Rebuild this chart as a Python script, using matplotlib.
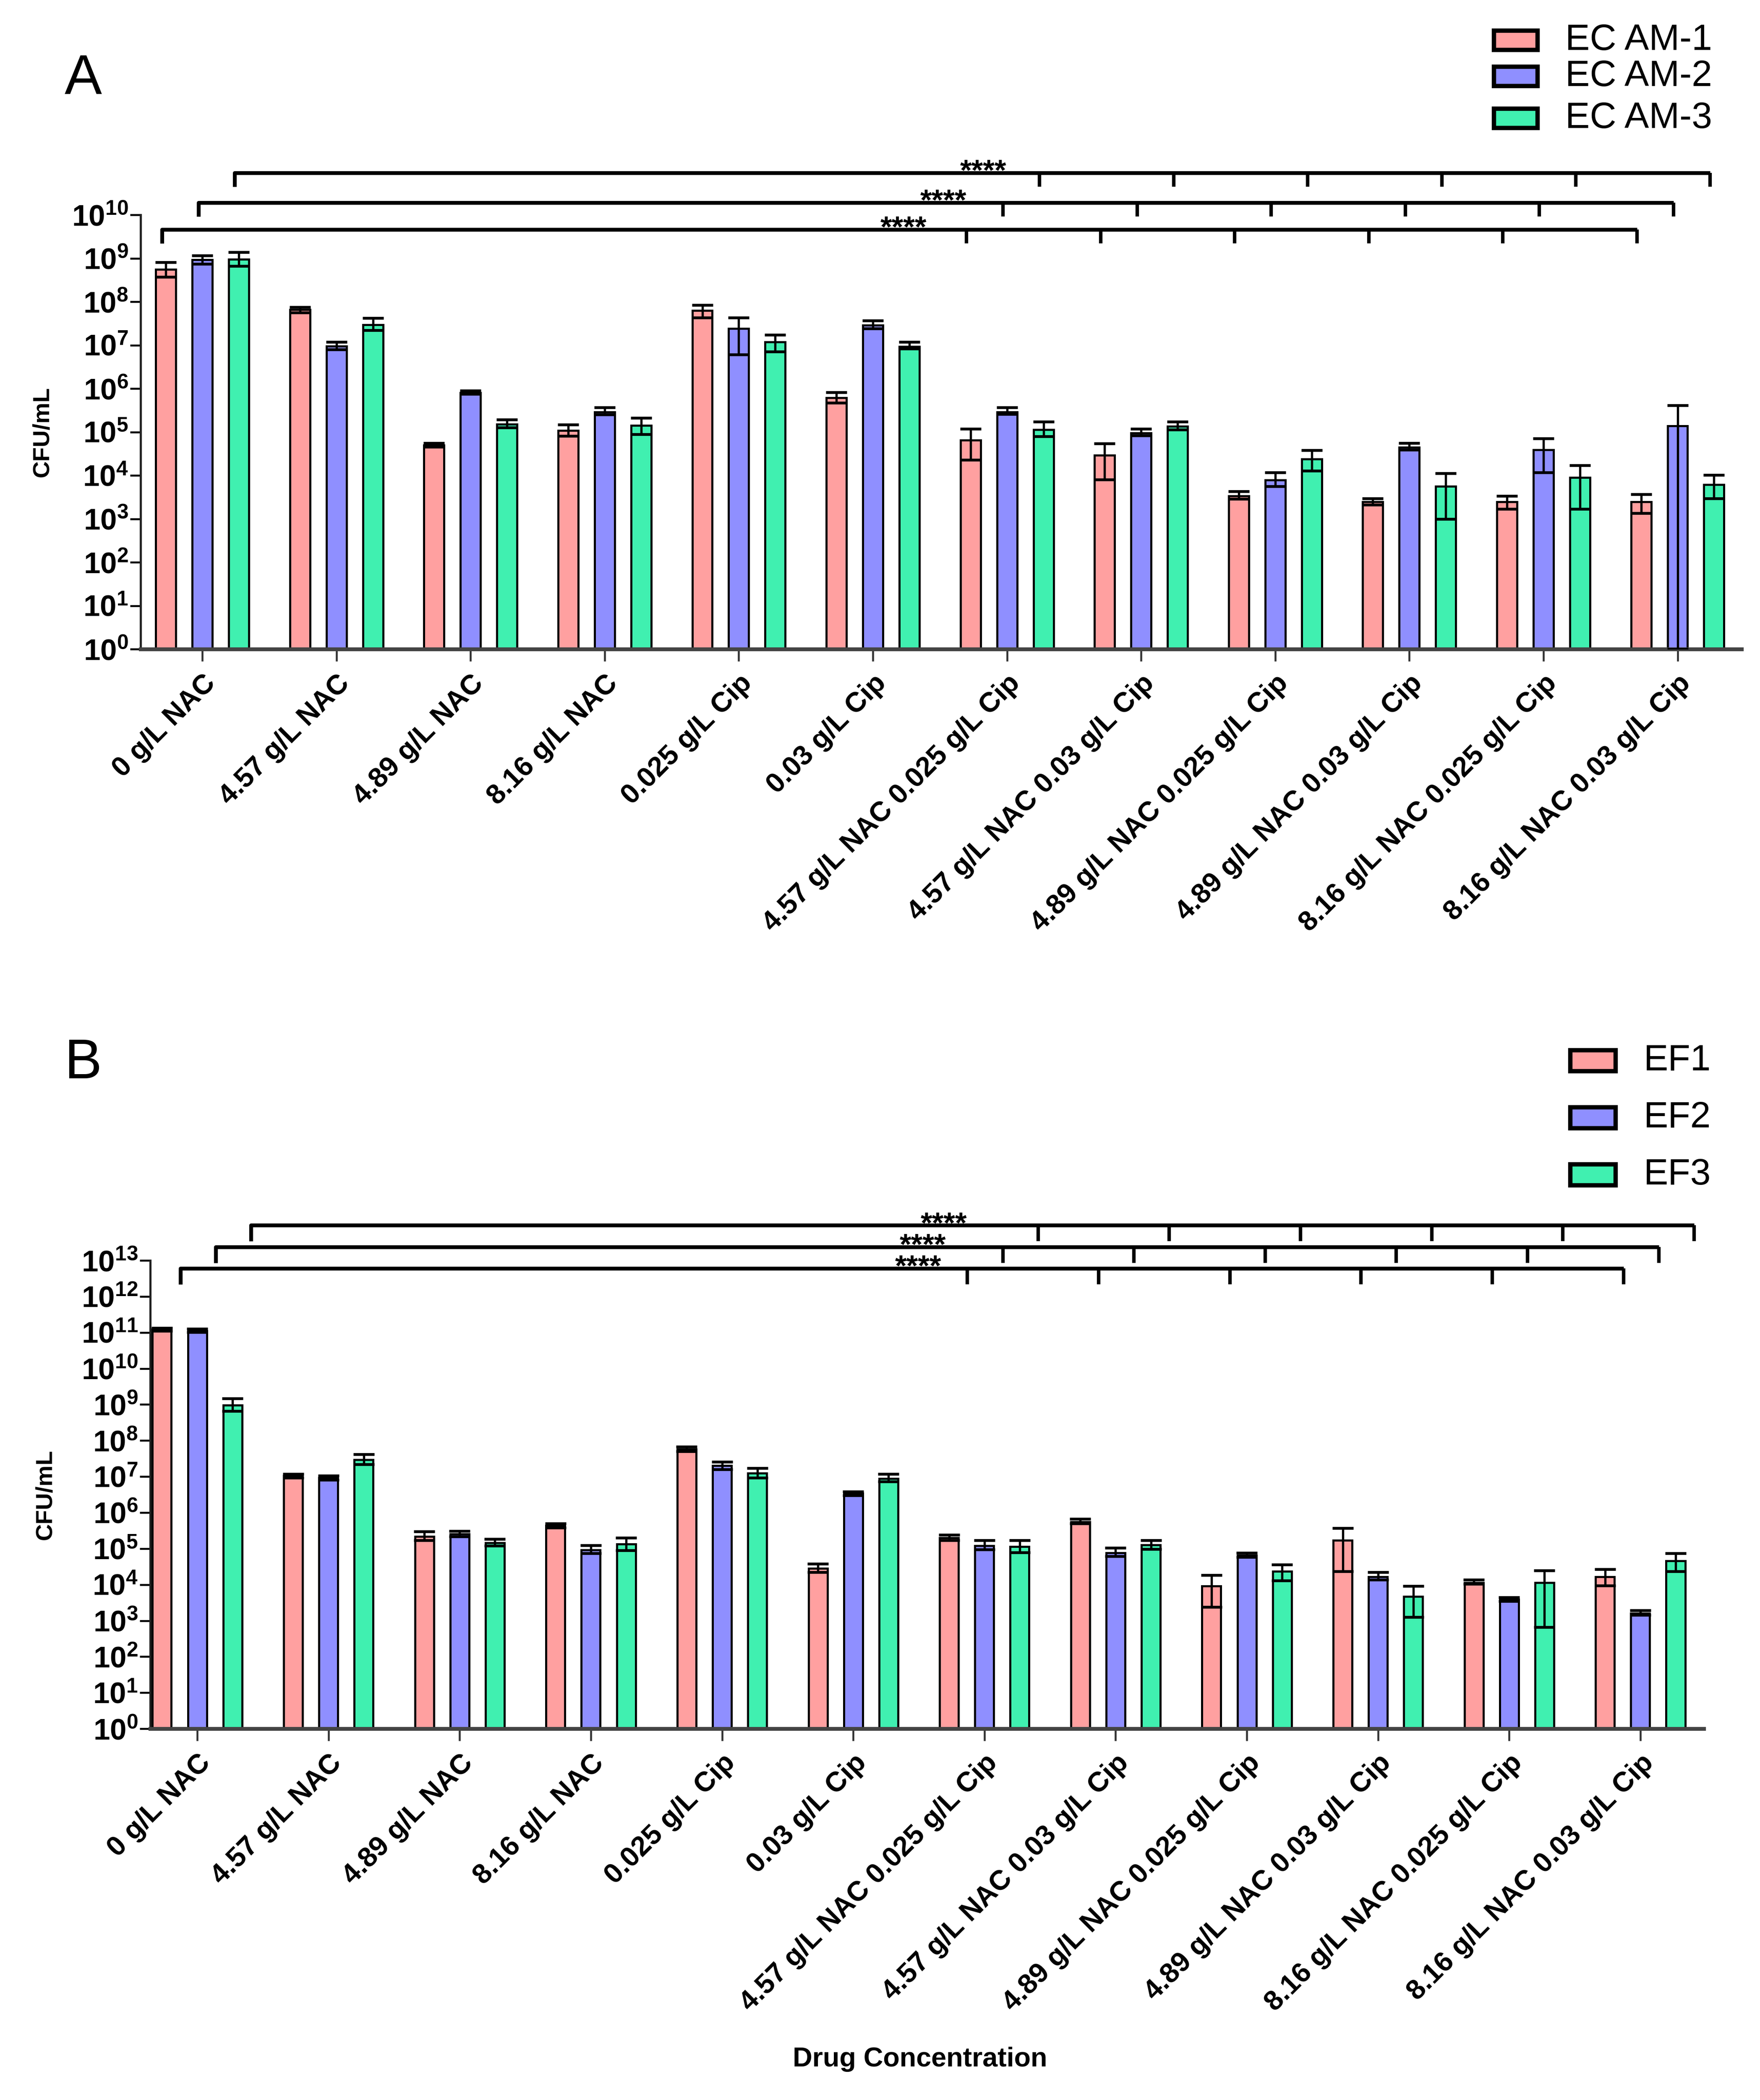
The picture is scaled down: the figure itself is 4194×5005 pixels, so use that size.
import numpy as np
import matplotlib
matplotlib.use("Agg")
import matplotlib.pyplot as plt
from matplotlib.patches import Rectangle
from matplotlib.ticker import NullLocator
from matplotlib.transforms import blended_transform_factory

plt.rcParams['font.family'] = ['Liberation Sans', 'DejaVu Sans']
plt.rcParams['mathtext.fontset'] = 'custom'
plt.rcParams['mathtext.rm'] = 'Liberation Sans'
plt.rcParams['mathtext.bf'] = 'Liberation Sans:bold'

groups = ['0 g/L NAC', '4.57 g/L NAC', '4.89 g/L NAC', '8.16 g/L NAC',
          '0.025 g/L Cip', '0.03 g/L Cip',
          '4.57 g/L NAC 0.025 g/L Cip', '4.57 g/L NAC 0.03 g/L Cip',
          '4.89 g/L NAC 0.025 g/L Cip', '4.89 g/L NAC 0.03 g/L Cip',
          '8.16 g/L NAC 0.025 g/L Cip', '8.16 g/L NAC 0.03 g/L Cip']
colors = ['#ffa0a0', '#8f8fff', '#40f0b0']

# --- Painel A: E. coli (CFU/mL), média e extremos das barras de erro ---
labels_a = ['EC AM-1', 'EC AM-2', 'EC AM-3']
am1 = [5.5e8, 6.5e7, 5.0e4, 1.07e5, 6.3e7, 6.2e5, 6.5e4, 2.9e4, 3.4e3, 2.45e3, 2.45e3, 2.45e3]
am1_lo = [3.75e8, 5.6e7, 4.5e4, 8.1e4, 4.3e7, 4.7e5, 2.3e4, 8.1e3, 2.85e3, 2.1e3, 1.7e3, 1.36e3]
am1_hi = [8.1e8, 7.5e7, 5.6e4, 1.47e5, 8.3e7, 8.2e5, 1.18e5, 5.4e4, 4.3e3, 2.95e3, 3.35e3, 3.7e3]
am2 = [9.25e8, 9.5e6, 8.05e5, 2.9e5, 2.4e7, 2.9e7, 2.85e5, 9.5e4, 7.8e3, 4.45e4, 3.9e4, 1.37e5]
am2_lo = [7.4e8, 7.9e6, 7.45e5, 2.5e5, 6.1e6, 2.4e7, 2.55e5, 8.2e4, 5.6e3, 3.9e4, 1.17e4, 1.0]
am2_hi = [1.15e9, 1.19e7, 9.0e5, 3.7e5, 4.3e7, 3.7e7, 3.7e5, 1.18e5, 1.17e4, 5.6e4, 7.1e4, 4.1e5]
am3 = [9.55e8, 2.95e7, 1.51e5, 1.41e5, 1.19e7, 9.2e6, 1.14e5, 1.34e5, 2.37e4, 5.6e3, 8.9e3, 6.2e3]
am3_lo = [6.6e8, 2.2e7, 1.26e5, 8.9e4, 7.1e6, 8.2e6, 7.9e4, 1.14e5, 1.29e4, 1.0e3, 1.7e3, 2.95e3]
am3_hi = [1.39e9, 4.2e7, 1.94e5, 2.12e5, 1.72e7, 1.19e7, 1.71e5, 1.71e5, 3.76e4, 1.11e4, 1.7e4, 1.03e4]

# --- Painel B: E. faecalis (CFU/mL) ---
labels_b = ['EF1', 'EF2', 'EF3']
ef1 = [1.22e11, 1.05e7, 2.16e5, 4.3e5, 5.7e7, 2.8e4, 2.0e5, 5.6e5, 9.2e3, 1.7e5, 1.14e4, 1.67e4]
ef1_lo = [1.11e11, 9.3e6, 1.7e5, 3.76e5, 5.0e7, 2.22e4, 1.7e5, 5.0e5, 2.4e3, 2.33e4, 1.04e4, 9.5e3]
ef1_hi = [1.34e11, 1.18e7, 2.96e5, 5.0e5, 6.8e7, 3.77e4, 2.44e5, 6.7e5, 1.84e4, 3.66e5, 1.38e4, 2.7e4]
ef2 = [1.11e11, 9.3e6, 2.56e5, 9.3e4, 2.0e7, 3.4e6, 1.19e5, 7.7e4, 6.5e4, 1.63e4, 3.9e3, 1.6e3]
ef2_lo = [1.01e11, 8.2e6, 2.16e5, 7.4e4, 1.57e7, 3.0e6, 9.4e4, 6.1e4, 5.8e4, 1.38e4, 3.5e3, 1.42e3]
ef2_hi = [1.28e11, 1.07e7, 3.1e5, 1.25e5, 2.6e7, 3.83e6, 1.7e5, 1.05e5, 7.7e4, 2.22e4, 4.4e3, 1.94e3]
ef3 = [9.7e8, 2.93e7, 1.44e5, 1.34e5, 1.26e7, 8.85e6, 1.14e5, 1.28e5, 2.33e4, 4.7e3, 1.14e4, 4.56e4]
ef3_lo = [6.6e8, 2.2e7, 1.19e5, 8.9e4, 9.3e6, 7.3e6, 7.8e4, 9.8e4, 1.28e4, 1.26e3, 6.6e2, 2.33e4]
ef3_hi = [1.46e9, 4.2e7, 1.83e5, 2.0e5, 1.73e7, 1.18e7, 1.7e5, 1.7e5, 3.6e4, 9.2e3, 2.5e4, 7.4e4]

# grupos comparados com 0 g/L NAC (****)
compared = [6, 7, 8, 9, 10, 11]

W, H = 4194, 5005
fig = plt.figure(figsize=(W / 300, H / 300), dpi=300)


def draw_panel(ax, series, lows, highs, top_exp, offset, width, xlim):
    x = np.arange(len(groups))
    ax.set_yscale('log')
    for i, (vals, lo, hi) in enumerate(zip(series, lows, highs)):
        vals, lo, hi = np.array(vals), np.array(lo), np.array(hi)
        xi = x + (i - 1) * offset
        ax.bar(xi, vals - 1, bottom=1, width=width, color=colors[i],
               edgecolor='black', linewidth=1.2, zorder=2)
        ax.errorbar(xi, vals, yerr=[vals - lo, hi - vals], fmt='none',
                    ecolor='black', elinewidth=1.3, capsize=6, capthick=1.6,
                    zorder=3)
    ax.set_ylim(1, 10 ** top_exp)
    ax.set_xlim(*xlim)
    exps = list(range(0, top_exp + 1))
    ax.set_yticks([10.0 ** k for k in exps])
    ax.set_yticklabels([r'$\mathbf{10^{%d}}$' % k for k in exps])
    ax.yaxis.set_minor_locator(NullLocator())
    ax.set_xticks(x)
    ax.set_xticklabels(groups, rotation=45, ha='right', va='top',
                       rotation_mode='anchor', fontweight='bold', fontsize=16)
    ax.tick_params(axis='y', length=6, width=1.1, pad=1, labelsize=17)
    ax.tick_params(axis='x', length=7, width=1.1, pad=5, color='#333333')
    for s in ['top', 'right']:
        ax.spines[s].set_visible(False)
    ax.spines['left'].set_linewidth(1.2)
    ax.spines['left'].set_color('#222222')
    ax.spines['bottom'].set_linewidth(2.2)
    ax.spines['bottom'].set_color('#444444')
    ax.set_ylabel('CFU/mL', fontweight='bold', fontsize=13.5)


def draw_brackets(ax, levels, leg, offset, shift, star_shift):
    trans = blended_transform_factory(ax.transData, ax.transAxes)
    for k, y in enumerate(levels):
        off = (k - 1) * offset + shift
        x0 = off
        ends = [g + off for g in compared]
        ax.plot([x0, x0, ends[-1]], [y - leg, y, y], color='black', lw=2.2,
                transform=trans, clip_on=False, solid_capstyle='butt')
        for xe in ends:
            ax.plot([xe, xe], [y, y - leg], color='black', lw=2.0,
                    transform=trans, clip_on=False, solid_capstyle='butt')
        ax.text((x0 + ends[-1]) / 2 + star_shift[k], y, '****', transform=trans,
                ha='center', va='center', fontsize=17, fontweight='bold')


def draw_legend(labels, x_patch, ys, pw, ph, x_text):
    for lab, col, y in zip(labels, colors, ys):
        fig.add_artist(Rectangle((x_patch / W, 1 - (y + ph / 2) / H), pw / W, ph / H,
                                 transform=fig.transFigure, facecolor=col,
                                 edgecolor='black', linewidth=2.5))
        fig.text(x_text / W, 1 - y / H, lab, fontsize=21, ha='left', va='center')


# painel A
ax_a = fig.add_axes([0.0799, 0.6909, 0.9096, 0.2068])
draw_panel(ax_a, [am1, am2, am3], [am1_lo, am2_lo, am3_lo], [am1_hi, am2_hi, am3_hi],
           10, 0.272, 0.150, (-0.46, 11.477))
ax_a.yaxis.set_label_coords(-0.0545, 0.5)
draw_brackets(ax_a, [0.966, 1.028, 1.097], 0.032, 0.272, -0.03, [0.03, 0.055, 0.08])
draw_legend(labels_a, 3560, [96, 182, 282], 104, 46, 3730)
fig.text(154 / W, 1 - 224 / H, 'A', fontsize=32, ha='left', va='baseline')

# painel B
ax_b = fig.add_axes([0.0854, 0.1768, 0.8827, 0.2230])
draw_panel(ax_b, [ef1, ef2, ef3], [ef1_lo, ef2_lo, ef3_lo], [ef1_hi, ef2_hi, ef3_hi],
           13, 0.269, 0.144, (-0.358, 11.484))
ax_b.yaxis.set_label_coords(-0.0605, 0.5)
draw_brackets(ax_b, [0.983, 1.0287, 1.075], 0.034, 0.269, 0.14, [0.125, -0.11, -0.22])
draw_legend(labels_b, 3742, [2528, 2664, 2800], 108, 50, 3917)
fig.text(154 / W, 1 - 2570 / H, 'B', fontsize=32, ha='left', va='baseline')

fig.text(2192 / W, 1 - 4908 / H, 'Drug Concentration', fontsize=15.5,
         fontweight='bold', ha='center', va='center')

fig.savefig('out.png', dpi=300, facecolor='white')
